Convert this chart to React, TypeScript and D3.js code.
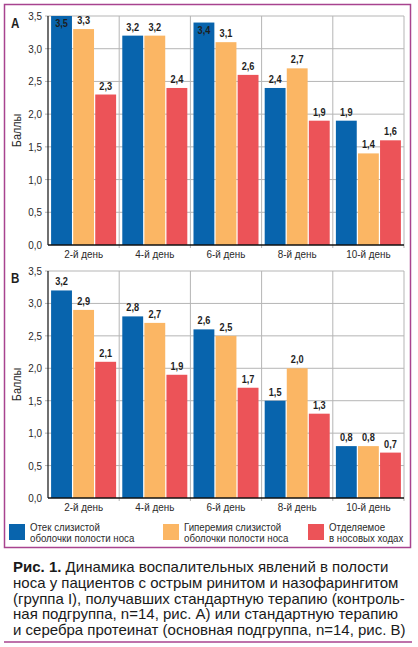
import React from "react";
import * as d3 from "d3";

const categories = ["2-й день", "4-й день", "6-й день", "8-й день", "10-й день"];
const seriesNames = [
  ["Отек слизистой", "оболочки полости носа"],
  ["Гиперемия слизистой", "оболочки полости носа"],
  ["Отделяемое", "в носовых ходах"],
];
const panelA_edema = [3.5, 3.2, 3.4, 2.4, 1.9];
const panelA_hyperemia = [3.3, 3.2, 3.1, 2.7, 1.4];
const panelA_discharge = [2.3, 2.4, 2.6, 1.9, 1.6];
const panelB_edema = [3.2, 2.8, 2.6, 1.5, 0.8];
const panelB_hyperemia = [2.9, 2.7, 2.5, 2.0, 0.8];
const panelB_discharge = [2.1, 1.9, 1.7, 1.3, 0.7];
const yTicks = [0, 0.5, 1, 1.5, 2, 2.5, 3, 3.5];
const yLabel = "Баллы";
const captionBold = "Рис. 1.";
const captionLines = [
  " Динамика воспалительных явлений в полости",
  "носа у пациентов с острым ринитом и назофарингитом",
  "(группа I), получавших стандартную терапию (контроль-",
  "ная подгруппа, n=14, рис. А) или стандартную терапию",
  "и серебра протеинат (основная подгруппа, n=14, рис. В)",
];

const COLORS = ["#0864ad", "#fbb664", "#ec5358"];
const BORDER = "#a8438f";
const GRID = "#b5b5b5";
const TEXT = "#2a2a2a";
const SANS = "'Liberation Sans', Arial, Helvetica, sans-serif";

const fmt = (v: number) => v.toFixed(1).replace(".", ",");

function NText({
  x, y, sx = 0.86, rotate = 0, children, ...rest
}: { x: number; y: number; sx?: number; rotate?: number; children: React.ReactNode; [k: string]: any }) {
  return (
    <text
      transform={`translate(${x},${y}) rotate(${rotate}) scale(${sx},1)`}
      x={0}
      y={0}
      fontFamily={SANS}
      fill={TEXT}
      {...rest}
    >
      {children}
    </text>
  );
}

function Panel({ letter, series, top, bottom }: { letter: string; series: number[][]; top: number; bottom: number }) {
  const left = 48;
  const right = 404;
  const x0 = d3.scaleBand<string>().domain(categories).range([left, right]).paddingInner(0).paddingOuter(0);
  const x1 = d3.scaleBand<number>().domain([0, 1, 2]).range([0, x0.bandwidth()]).paddingInner(0.055).paddingOuter(0.14);
  const y = d3.scaleLinear().domain([0, 3.5]).range([bottom, top]);
  return (
    <g>
      {yTicks.map((t) => (
        <g key={t}>
          <line x1={left - 3} x2={right} y1={y(t)} y2={y(t)} stroke={t === 0 ? "none" : GRID} strokeWidth={1} />
          <NText x={left - 6} y={y(t) + 4} sx={0.9} textAnchor="end" fontSize={11}>
            {fmt(t)}
          </NText>
        </g>
      ))}
      {categories.map((c, i) => (
        <g key={c}>
          {i > 0 && <line x1={x0(c)!} x2={x0(c)!} y1={top} y2={bottom + 3} stroke={GRID} strokeWidth={1} />}
          <NText x={x0(c)! + x0.bandwidth() / 2} y={bottom + 12.5} sx={0.9} textAnchor="middle" fontSize={11}>
            {c}
          </NText>
        </g>
      ))}
      <line x1={right} x2={right} y1={top} y2={bottom + 3} stroke={GRID} strokeWidth={1} />
      {series.map((vals, si) =>
        vals.map((v, ci) => {
          const bx = x0(categories[ci])! + x1(si)!;
          const bw = x1.bandwidth();
          const by = y(v);
          const inside = by - 13 < top;
          return (
            <g key={`${si}-${ci}`}>
              <rect x={bx} y={by} width={bw} height={bottom - by} fill={COLORS[si]} />
              <NText
                x={bx + bw / 2}
                y={inside ? by + 11 : by - 5}
                sx={0.8}
                textAnchor="middle"
                fontSize={11.5}
                fontWeight="bold"
                fill="#1e1e1e"
              >
                {fmt(v)}
              </NText>
            </g>
          );
        })
      )}
      <line x1={left} x2={left} y1={top} y2={bottom} stroke="#111" strokeWidth={1.2} />
      <line x1={left} x2={right} y1={bottom} y2={bottom} stroke="#111" strokeWidth={1.5} />
      <NText x={11} y={top + 12} sx={0.75} fontSize={15.5} fontWeight="bold" fill="#1e1e1e">
        {letter}
      </NText>
      <NText x={21} y={(top + bottom) / 2} rotate={-90} textAnchor="middle" fontSize={12.5}>
        {yLabel}
      </NText>
    </g>
  );
}

export default function App() {
  const legendX = [9, 163, 308];
  return (
    <svg width={418} height={647} style={{ position: "absolute", left: 0, top: 0, background: "#fff" }}>
      <rect x={0} y={0} width={418} height={647} fill="#fff" />
      <rect x={4.5} y={4.5} width={406} height={543} fill="none" stroke={BORDER} strokeWidth={1.5} />
      <Panel letter="A" series={[panelA_edema, panelA_hyperemia, panelA_discharge]} top={16} bottom={245} />
      <Panel letter="B" series={[panelB_edema, panelB_hyperemia, panelB_discharge]} top={271} bottom={498} />
      {seriesNames.map((n, i) => (
        <g key={i}>
          <rect x={legendX[i]} y={524} width={16} height={16} fill={COLORS[i]} />
          <NText x={legendX[i] + 21} y={530.5} fontSize={11} sx={0.88}>
            <tspan x={0}>{n[0]}</tspan>
            <tspan x={0} dy={11.6}>{n[1]}</tspan>
          </NText>
        </g>
      ))}
      {captionLines.map((l, i) => (
        <text key={i} x={13} y={572 + i * 15.8} fontSize={15} fill="#1a1a1a" fontFamily={SANS}>
          {i === 0 && <tspan fontWeight="bold">{captionBold}</tspan>}
          {l}
        </text>
      ))}
      <line x1={4} x2={412} y1={642} y2={642} stroke={BORDER} strokeWidth={1.5} />
    </svg>
  );
}
